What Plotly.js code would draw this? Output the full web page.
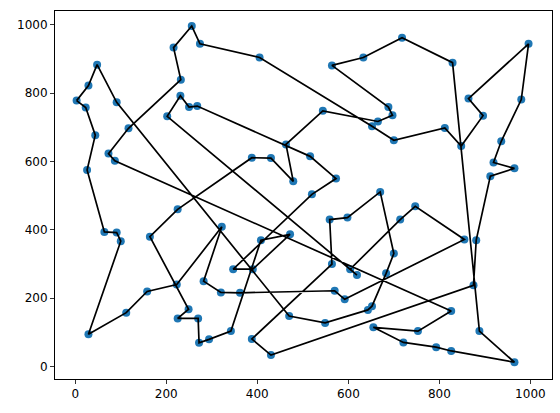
<!DOCTYPE html>
<html>
<head>
<meta charset="utf-8">
<script src="https://cdn.plot.ly/plotly-3.0.1.min.js"></script>
<style>html,body{margin:0;padding:0;background:#fff;}#chart{width:560px;height:413px;}</style>
</head>
<body>
<div id="chart"></div>
<script>
// City coordinates, listed in tour order (the tour closes back to the first city)
const tourX = [3,29,48,91,470,549,643,652,683,700,670,598,559,564,388,430,875,881,912,965,919,936,980,996,864,896,848,812,700,652,405,274,256,216,232,117,73,87,826,753,655,721,793,826,965,888,829,718,633,564,688,697,665,544,463,479,430,388,225,164,249,225,270,272,294,342,408,472,390,347,520,573,516,268,250,231,202,619,604,714,747,855,592,570,362,320,282,322,223,158,112,29,100,91,64,26,44,23];
const tourY = [778,822,883,773,148,128,166,177,273,331,511,436,430,300,81,34,238,370,557,580,597,659,781,944,784,734,645,698,662,703,904,944,996,933,839,697,623,602,163,104,115,71,57,46,13,104,889,962,904,881,759,735,717,748,650,542,610,611,460,380,168,141,141,70,80,104,370,387,285,285,504,550,615,762,759,792,732,268,285,430,469,372,197,222,216,217,250,409,240,220,158,95,367,392,394,575,677,758];
const xTicks = [0,200,400,600,800,1000];
const yTicks = [0,200,400,600,800,1000];

const lineX = tourX.concat([tourX[0]]);
const lineY = tourY.concat([tourY[0]]);

const traces = [
  {x: tourX, y: tourY, type: 'scatter', mode: 'markers',
   marker: {color: '#1f77b4', size: 8, line: {width: 0}}, hoverinfo: 'skip'},
  {x: lineX, y: lineY, type: 'scatter', mode: 'lines',
   line: {color: '#000000', width: 1.7}, hoverinfo: 'skip'}
];
const axisCommon = {
  showgrid: false, zeroline: false, showline: true, mirror: true,
  linecolor: '#000', linewidth: 1, ticks: 'outside', ticklen: 4,
  tickwidth: 0.8, tickcolor: '#000',
  tickfont: {family: 'DejaVu Sans', size: 12, color: '#000'}
};
const layout = {
  width: 560, height: 413,
  margin: {l: 55, r: 8, t: 11, b: 34, pad: 0},
  showlegend: false,
  paper_bgcolor: '#fff', plot_bgcolor: '#fff',
  xaxis: Object.assign({}, axisCommon, {range: [-44.5, 1047.5], tickvals: xTicks, ticktext: xTicks.map(String)}),
  yaxis: Object.assign({}, axisCommon, {range: [-36, 1040], tickvals: yTicks, ticktext: yTicks.map(String)})
};
Plotly.newPlot('chart', traces, layout, {staticPlot: true, displayModeBar: false});
</script>
</body>
</html>
